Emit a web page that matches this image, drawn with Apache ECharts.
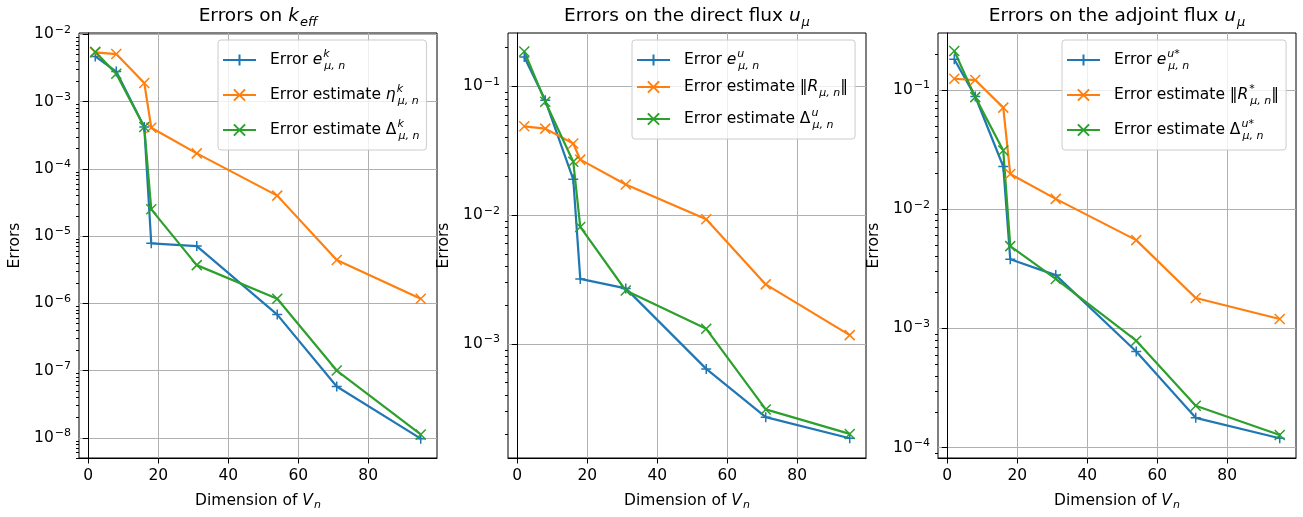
<!DOCTYPE html>
<html>
<head>
<meta charset="utf-8">
<script src="https://cdn.jsdelivr.net/npm/echarts@6/dist/echarts.min.js"></script>
<style>
html,body{margin:0;padding:0;background:#fff;}
#chart{width:1303px;height:517px;}
</style>
</head>
<body>
<div id="chart"></div>
<script>
// ---- data ----
const dims = [2, 8, 16, 18, 31, 54, 71, 95];

const keffError = [4.7e-3, 2.8e-3, 4.2e-4, 7.8e-6, 7.1e-6, 6.8e-7, 5.8e-8, 9.7e-9];
const keffEta   = [5.4e-3, 5.1e-3, 1.9e-3, 4.1e-4, 1.7e-4, 4.0e-5, 4.4e-6, 1.17e-6];
const keffDelta = [5.5e-3, 2.6e-3, 4.2e-4, 2.5e-5, 3.7e-6, 1.17e-6, 1.0e-7, 1.12e-8];

const directError    = [0.169, 0.078, 0.019, 3.2e-3, 2.7e-3, 6.4e-4, 2.7e-4, 1.85e-4];
const directResidual = [0.049, 0.047, 0.036, 0.027, 0.0173, 9.3e-3, 2.9e-3, 1.17e-3];
const directDelta    = [0.187, 0.076, 0.026, 8.1e-3, 2.6e-3, 1.31e-3, 3.1e-4, 2.0e-4];

const adjointError    = [0.181, 0.088, 0.0228, 3.8e-3, 2.8e-3, 6.4e-4, 1.78e-4, 1.2e-4];
const adjointResidual = [0.124, 0.121, 0.071, 0.0197, 0.0122, 5.5e-3, 1.8e-3, 1.2e-3];
const adjointDelta    = [0.212, 0.087, 0.031, 4.9e-3, 2.6e-3, 7.9e-4, 2.25e-4, 1.28e-4];

const xTicks = [0, 20, 40, 60, 80];
const keffTicks = [1e-8, 1e-7, 1e-6, 1e-5, 1e-4, 1e-3, 1e-2];
const directTicks = [1e-3, 1e-2, 1e-1];
const adjointTicks = [1e-4, 1e-3, 1e-2, 1e-1];

// ---- styling / layout ----
const FONT = 'DejaVu Sans';
const FS = 15.5;      // base text size
const FSS = 11;       // sub/superscript size
const C_BLUE = '#1f77b4', C_ORANGE = '#ff7f0e', C_GREEN = '#2ca02c';
const PLUS = 'path://M5,0 L5,10 M0,5 L10,5';
const CROSS = 'path://M0,0 L10,10 M10,0 L0,10';

const panels = [
  { left: 79, width: 358, min: 5.0e-9, max: 1.05e-2, ticks: keffTicks,
    titlePlain: 'Errors on ', titleMath: '{ti|k}{ts|eff}',
    legendLeft: 218, itemGap: 9,
    series: [
      { name: 'keffError', data: keffError, color: C_BLUE, symbol: PLUS,
        label: '{f|Error }{i|e}{p|k}{b|μ, n}' },
      { name: 'keffEta', data: keffEta, color: C_ORANGE, symbol: CROSS,
        label: '{f|Error estimate }{i|η}{p|k}{b|μ, n}' },
      { name: 'keffDelta', data: keffDelta, color: C_GREEN, symbol: CROSS,
        label: '{f|Error estimate }{n|Δ}{p|k}{b|μ, n}' }
    ] },
  { left: 508, width: 358, min: 1.3e-4, max: 0.26, ticks: directTicks,
    titlePlain: 'Errors on the direct flux ', titleMath: '{ti|u}{ts|μ}',
    legendLeft: 632, itemGap: 6,
    series: [
      { name: 'directError', data: directError, color: C_BLUE, symbol: PLUS,
        label: '{f|Error }{i|e}{p|u}{b|μ, n}' },
      { name: 'directResidual', data: directResidual, color: C_ORANGE, symbol: CROSS,
        label: '{f|Error estimate }{n|‖}{i|R}{b|μ, n}{n|‖}' },
      { name: 'directDelta', data: directDelta, color: C_GREEN, symbol: CROSS,
        label: '{f|Error estimate }{n|Δ}{p|u}{b|μ, n}' }
    ] },
  { left: 938, width: 358, min: 8.2e-5, max: 0.30, ticks: adjointTicks,
    titlePlain: 'Errors on the adjoint flux ', titleMath: '{ti|u}{ts|μ}',
    legendLeft: 1062, itemGap: 9,
    series: [
      { name: 'adjointError', data: adjointError, color: C_BLUE, symbol: PLUS,
        label: '{f|Error }{i|e}{p|u*}{b|μ, n}' },
      { name: 'adjointResidual', data: adjointResidual, color: C_ORANGE, symbol: CROSS,
        label: '{f|Error estimate }{n|‖}{i|R}{p|*}{b|μ, n}{n|‖}' },
      { name: 'adjointDelta', data: adjointDelta, color: C_GREEN, symbol: CROSS,
        label: '{f|Error estimate }{n|Δ}{p|u*}{b|μ, n}' }
    ] }
];

const TOP = 33, HEIGHT = 425;
const XMIN = -2.65, XMAX = 99.65;

function powLabel(v) {
  const e = Math.round(Math.log10(v));
  return '{b|10}{s|' + String(e).replace('-', '−') + '}';
}
function minorTicks(min, max) {
  const out = [];
  for (let e = Math.floor(Math.log10(min)); e <= Math.ceil(Math.log10(max)); e++) {
    for (let m = 2; m <= 9; m++) {
      const v = m * Math.pow(10, e);
      if (v >= min && v <= max) out.push(v);
    }
  }
  return out;
}

const base = { fontFamily: FONT, color: '#000', fontWeight: 'normal' };
const legendRich = {
  f: Object.assign({ fontSize: FS, lineHeight: 26, padding: [0, 0, 0, 9] }, base),
  n: Object.assign({ fontSize: FS, lineHeight: 26 }, base),
  i: Object.assign({ fontSize: FS, lineHeight: 26, fontStyle: 'italic' }, base),
  p: Object.assign({ fontSize: FSS, lineHeight: 11, fontStyle: 'italic', verticalAlign: 'top', padding: [2, 0, 0, 1], width: 0 }, base),
  b: Object.assign({ fontSize: FSS, lineHeight: 11, fontStyle: 'italic', verticalAlign: 'bottom', padding: [0, 0, 1, 1] }, base)
};
const titleRich = {
  t: Object.assign({ fontSize: 18.5, lineHeight: 26 }, base),
  ti: Object.assign({ fontSize: 18.5, lineHeight: 26, fontStyle: 'italic' }, base),
  ts: Object.assign({ fontSize: 13, lineHeight: 13, fontStyle: 'italic', verticalAlign: 'bottom', padding: [0, 0, 0, 1] }, base)
};
const labelRich = {
  b: Object.assign({ fontSize: FS, lineHeight: 20 }, base),
  s: Object.assign({ fontSize: FSS, lineHeight: 11, verticalAlign: 'top', padding: [0, 0, 0, 1] }, base)
};
const nameRich = {
  n: Object.assign({ fontSize: FS, lineHeight: 22 }, base),
  i: Object.assign({ fontSize: FS, lineHeight: 22, fontStyle: 'italic' }, base),
  s: Object.assign({ fontSize: FSS, lineHeight: 11, fontStyle: 'italic', verticalAlign: 'bottom', padding: [0, 0, 1, 1] }, base)
};

const option = {
  animation: false,
  backgroundColor: '#fff',
  textStyle: { fontFamily: FONT },
  title: [], grid: [], xAxis: [], yAxis: [], legend: [], series: []
};

const labelLookup = {};
panels.forEach((p, k) => {
  option.grid.push({ left: p.left, top: TOP, width: p.width, height: HEIGHT, show: true,
    borderColor: '#000', borderWidth: 1, backgroundColor: 'transparent', containLabel: false });
  option.title.push({ text: '{t|' + p.titlePlain + '}' + p.titleMath,
    left: p.left + p.width / 2, top: 3, textAlign: 'center', padding: 0,
    textStyle: { fontWeight: 'normal', rich: titleRich } });
  option.xAxis.push({
    type: 'value', gridIndex: k, min: XMIN, max: XMAX, splitNumber: 5,
    axisLine: { show: true, onZero: false, lineStyle: { color: '#000', width: 1 } },
    axisTick: { show: true, inside: false, length: 5.5, customValues: xTicks, lineStyle: { color: '#000' } },
    axisLabel: { customValues: xTicks, margin: 10, fontSize: FS, color: '#000', fontFamily: FONT },
    splitLine: { show: true, lineStyle: { color: '#b0b0b0', width: 1 } },
    name: '{n|Dimension of }{i|V}{s|n}', nameLocation: 'middle', nameGap: 32,
    nameTextStyle: { rich: nameRich }
  });
  option.yAxis.push({
    type: 'log', logBase: 10, gridIndex: k, min: p.min, max: p.max, position: 'left',
    axisLine: { show: true, lineStyle: { color: '#000', width: 1 } },
    axisTick: { show: true, inside: false, length: 5.5, customValues: p.ticks, lineStyle: { color: '#000' } },
    axisLabel: { customValues: p.ticks, margin: 8, formatter: powLabel, rich: labelRich },
    splitLine: { show: true, lineStyle: { color: '#b0b0b0', width: 1 } },
    minorTick: { show: false },
    name: 'Errors', nameLocation: 'middle', nameGap: 56,
    nameTextStyle: { fontSize: FS, color: '#000', fontFamily: FONT }
  });
  option.yAxis.push({
    type: 'log', logBase: 10, gridIndex: k, min: p.min, max: p.max, position: 'left',
    axisLine: { show: false },
    axisTick: { show: true, inside: false, length: 3, customValues: minorTicks(p.min, p.max), lineStyle: { color: '#000' } },
    axisLabel: { show: false },
    splitLine: { show: false }
  });
  option.legend.push({
    orient: 'vertical', left: p.legendLeft, top: 40,
    data: p.series.map(s => s.name),
    itemWidth: 33, itemHeight: 14, itemGap: p.itemGap,
    padding: [7, 7, 7, 4],
    backgroundColor: 'rgba(255,255,255,0.8)', borderColor: '#cccccc', borderWidth: 1, borderRadius: 3,
    selectedMode: false,
    formatter: name => labelLookup[name],
    textStyle: { rich: legendRich }
  });
  p.series.forEach(s => {
    labelLookup[s.name] = s.label;
    option.series.push({
      type: 'line', name: s.name, xAxisIndex: k, yAxisIndex: 2 * k,
      data: dims.map((d, j) => [d, s.data[j]]),
      symbol: s.symbol, symbolSize: 10, showAllSymbol: true,
      lineStyle: { color: s.color, width: 2.2 },
      itemStyle: { color: s.color, borderColor: s.color, borderWidth: 1.5 },
      emphasis: { disabled: true }, silent: true
    });
  });
});

const chart = echarts.init(document.getElementById('chart'), null, { renderer: 'canvas' });
chart.setOption(option);
</script>
</body>
</html>
